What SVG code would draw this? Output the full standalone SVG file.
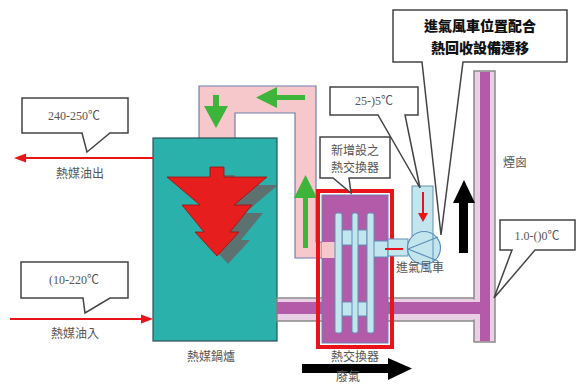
<svg xmlns="http://www.w3.org/2000/svg" width="583" height="384" viewBox="0 0 583 384">
  <style>
    .lbl { font-family: "Noto Sans CJK TC", "Noto Sans", sans-serif; font-size: 12px; fill: #555; text-anchor: middle; }
    .num { font-family: "Liberation Serif", "Noto Sans CJK TC", serif; font-size: 12px; fill: #555; text-anchor: middle; }
    .bold { font-family: "Noto Sans CJK TC", sans-serif; font-size: 14px; font-weight: 900; fill: #111; text-anchor: middle; }
    .callout { fill: #fff; stroke: #444; stroke-width: 1.5; stroke-linejoin: miter; }
    .pink { fill: #f6c7cb; stroke: #6f7fb2; stroke-width: 1.2; }
    .blue { fill: #c3e6ee; stroke: #5f8fb8; stroke-width: 1; }
    .green { fill: #3db43a; }
    .exh-out { fill: #e8cfe3; stroke: #8a8a8a; stroke-width: 1.5; }
    .exh-in { fill: #b35aa8; }
  </style>

  <!-- boiler-to-exchanger circulation pipe (inverted U) -->
  <g id="loop-pipe">
    <path class="pink" d="M199,86 H316 V242 H330 V258 H295 V113 H235 V140 H199 Z"/>
    <!-- flow arrows -->
    <polygon class="green" points="305,95 277,95 277,87 256,97.5 277,108 277,100 305,100"/>
    <polygon class="green" points="213,95 219,95 219,106 228,106 216,128 204,106 213,106"/>
    <polygon class="green" points="303,248 303,198 294,198 305.5,175 317,198 308,198 308,248"/>
  </g>

  <!-- heat-medium boiler -->
  <g id="boiler">
    <rect x="153" y="138" width="124" height="203" fill="#2bb1ac" stroke="#2f4f55" stroke-width="1.2"/>
    <!-- shadow of flame symbol -->
    <polygon transform="translate(11,8)" fill="#666" opacity="0.85"
      points="210,167 224,167 224,177 267,177 234,205 252,205 230,232 239,232 217,256 195,232 204,232 182,205 200,205 167,177 210,177"/>
    <polygon fill="#e61e1e" stroke="#9a1010" stroke-width="0.8"
      points="210,167 224,167 224,177 267,177 234,205 252,205 230,232 239,232 217,256 195,232 204,232 182,205 200,205 167,177 210,177"/>
    <text class="lbl" x="211" y="361">熱媒鍋爐</text>
  </g>

  <!-- exhaust duct and chimney -->
  <g id="exhaust-duct">
    <rect class="exh-out" x="277" y="298" width="200" height="23"/>
    <rect class="exh-in" x="277" y="302" width="200" height="12"/>
    <rect class="exh-out" x="474" y="71" width="21" height="271"/>
    <rect class="exh-in" x="480" y="72" width="10" height="269"/>
    <rect x="470" y="299.5" width="8" height="20" fill="#e8cfe3"/>
    <rect x="470" y="302" width="12" height="12" fill="#b35aa8"/>
    <text class="lbl" x="515" y="167">煙囪</text>
  </g>

  <!-- new heat exchanger -->
  <g id="heat-exchanger">
    <rect x="318" y="191" width="74" height="156" fill="none" stroke="#e8141a" stroke-width="4"/>
    <rect x="322" y="195" width="66" height="148" fill="#b35aa8" stroke="#6f7fb2" stroke-width="1"/>
    <rect x="322" y="242" width="13" height="16" fill="#f6c7cb"/>
    <rect class="blue" x="342" y="230" width="25" height="15"/>
    <rect class="blue" x="342" y="302" width="25" height="14"/>
    <rect class="blue" x="373" y="241" width="15" height="16"/>
    <rect class="blue" x="335" y="213" width="7" height="120" rx="2"/>
    <rect class="blue" x="352" y="213" width="6" height="120" rx="2"/>
    <rect class="blue" x="367" y="213" width="7" height="120" rx="2"/>
    <text class="lbl" x="355" y="361">熱交換器</text>
  </g>

  <!-- intake fan -->
  <g id="fan">
    <rect class="blue" x="412" y="186" width="21" height="50"/>
    <rect class="blue" x="388" y="239" width="20" height="17"/>
    <circle cx="424" cy="248" r="16.5" fill="#c3e6ee" stroke="#5f8fb8" stroke-width="1.2"/>
    <path d="M438,237 L408,249 L438,261" fill="none" stroke="#5f8fb8" stroke-width="1.2"/>
    <line x1="433" y1="234" x2="433" y2="262" stroke="#5f8fb8" stroke-width="1"/>
    <!-- air flow -->
    <line x1="423" y1="192" x2="423" y2="214" stroke="#e8141a" stroke-width="2"/>
    <polygon points="418,213 428,213 423,222" fill="#e8141a"/>
    <line x1="385" y1="249" x2="403" y2="249" stroke="#e8141a" stroke-width="2"/>
    <text class="lbl" x="420" y="272">進氣風車</text>
  </g>

  <!-- flow arrows and pointers -->
  <g id="connectors">
    <!-- heat medium out -->
    <line x1="24" y1="158" x2="153" y2="158" stroke="#e8141a" stroke-width="2"/>
    <polygon points="14,158 26,153.5 26,162.5" fill="#e8141a"/>
    <!-- heat medium in -->
    <line x1="10" y1="319" x2="143" y2="319" stroke="#e8141a" stroke-width="2"/>
    <polygon points="153,319 141,314.5 141,323.5" fill="#e8141a"/>
    <!-- exhaust flow -->
    <polygon fill="#000" points="302,364 388,364 388,358 412,368.5 388,380 388,373 302,373"/>
    <polygon fill="#000" points="459,253 459,203 453,203 464,180 475,203 468,203 468,253"/>

    <!-- callout: outlet temperature -->
    <path class="callout" d="M22,98 H128 V133 H110 L87,152 L82,133 H22 Z"/>
    <!-- callout: inlet temperature -->
    <path class="callout" d="M21,262 H128 V298 H110 L85,313 L83,298 H21 Z"/>
    <!-- callout: new exchanger -->
    <path class="callout" d="M320,137 H390 V178 H349 L351,193 L333,178 H320 Z"/>
    <!-- callout: fan inlet temperature -->
    <path class="callout" d="M330,87 H418 V115 H405 L420,188 L378,115 H330 Z"/>
    <!-- callout: relocation note -->
    <path class="callout" d="M393,10 H567 V62 H463 L441,235 L422,62 H393 Z"/>
    <!-- callout: stack temperature -->
    <path class="callout" d="M500,220 H575 V250 H535 L494,298 L512,250 H500 Z"/>
  </g>

  <!-- texts -->
  <g id="labels">
    <text class="num" x="74" y="120">240-250℃</text>
    <text class="lbl" x="80" y="178">熱媒油出</text>
    <text class="num" x="74" y="284">(10-220℃</text>
    <text class="lbl" x="75" y="338">熱媒油入</text>
    <text class="lbl" x="355" y="155">新增設之</text>
    <text class="lbl" x="355" y="172">熱交換器</text>
    <text class="num" x="374" y="105">25-)5℃</text>
    <text class="bold" x="480" y="31">進氣風車位置配合</text>
    <text class="bold" x="480" y="53">熱回收設備遷移</text>
    <text class="num" x="537" y="240">1.0-()0℃</text>
    <text class="lbl" x="348" y="381">廢氣</text>
  </g>
</svg>
